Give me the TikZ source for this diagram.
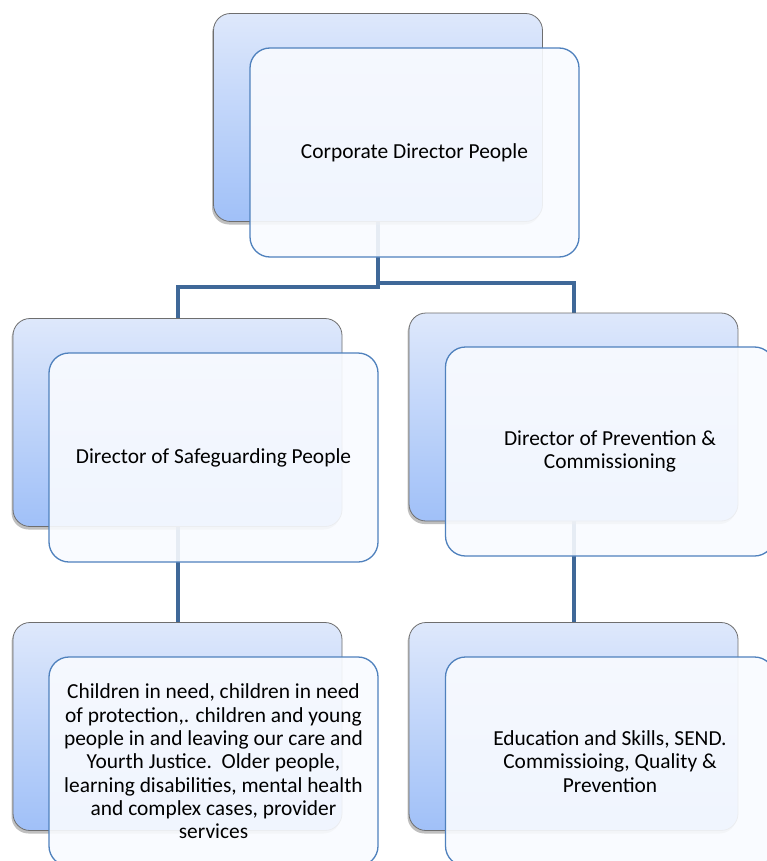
\documentclass[tikz,border=0pt]{standalone}
\usepackage{fontspec}
\setmainfont{Carlito}
\usetikzlibrary{shadows,backgrounds}
\definecolor{conn}{HTML}{3F6898}
\definecolor{backtop}{HTML}{DEE8FB}
\definecolor{backbot}{HTML}{A0C0F8}
\definecolor{backline}{HTML}{6E6E6E}
\definecolor{frontline}{HTML}{4F81BD}
\definecolor{frontfill}{HTML}{F9FBFF}
\begin{document}
\begin{tikzpicture}[x=1pt,y=-1pt,
  backbox/.style={rounded corners=17pt, draw=backline, line width=0.8pt,
    top color=backtop, bottom color=backbot,
    minimum width=329pt, minimum height=208pt, inner sep=0pt,
    drop shadow={shadow xshift=-1.5pt, shadow yshift=-3pt, opacity=0.5}},
  frontbox/.style={rounded corners=20pt, draw=frontline, line width=1.3pt,
    fill=frontfill, fill opacity=0.9, text opacity=1,
    minimum width=329pt, minimum height=209pt, inner sep=0pt,
    align=center, font=\fontsize{21.4}{23.3}\selectfont},
  link/.style={draw=conn, line width=4pt}]
\useasboundingbox (0,0) rectangle (766,861);

% top
\node[backbox] (b1) at (378,117.5) {};
\node[frontbox] (f1) at (414.5,152.5) {Corporate Director People};
% middle left
\node[backbox] (b2) at (177.5,422.5) {};
\node[frontbox] (f2) at (213.5,457.5) {Director of Safeguarding People};
% middle right
\node[backbox] (b3) at (573.5,417) {};
\node[frontbox] (f3) at (610,451.5) {Director of Prevention \&\\Commissioning};
% bottom left
\node[backbox] (b4) at (177.5,726.5) {};
\node[frontbox] (f4) at (213.5,761.5) {Children in need, children in need\\of protection,. children and young\\people in and leaving our care and\\Yourth Justice.\ \ Older people,\\learning disabilities, mental health\\and complex cases, provider\\services};
% bottom right
\node[backbox] (b5) at (573.5,726.5) {};
\node[frontbox] (f5) at (610,761.5) {Education and Skills, SEND.\\Commissioing, Quality \&\\Prevention};

\coordinate (jl) at (378,287);
\coordinate (jr) at (378,283);
\begin{scope}[on background layer]
\fill[white] (0,0) rectangle (766,861);
\draw[link] (b1.south) -- (jl) -| (b2.north);
\draw[link] (b1.south) -- (jr) -| (b3.north);
\draw[link] (b2.south) -- (b4.north);
\draw[link] (b3.south) -- (b5.north);
\end{scope}
\end{tikzpicture}
\end{document}
